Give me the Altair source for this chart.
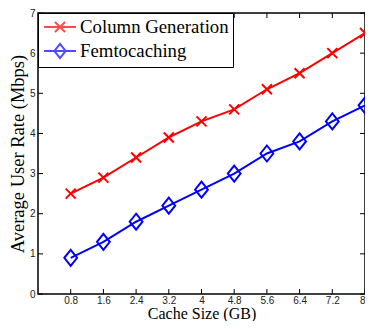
import altair as alt
import pandas as pd

cache_size = [0.8, 1.6, 2.4, 3.2, 4.0, 4.8, 5.6, 6.4, 7.2, 8.0]
column_generation = [2.5, 2.9, 3.4, 3.9, 4.3, 4.6, 5.1, 5.5, 6.0, 6.5]
femtocaching = [0.9, 1.3, 1.8, 2.2, 2.6, 3.0, 3.5, 3.8, 4.3, 4.7]
series_names = ["Column Generation", "Femtocaching"]
series_colors = ["#ff0000", "#0000ff"]
x_ticks = [0.8, 1.6, 2.4, 3.2, 4.0, 4.8, 5.6, 6.4, 7.2, 8.0]
y_ticks = [0, 1, 2, 3, 4, 5, 6, 7]

W, H = 327, 281
SERIF = "Liberation Serif"
SANS = "Liberation Sans"

df = pd.DataFrame({
    "cache": cache_size * 2,
    "rate": column_generation + femtocaching,
    "series": [series_names[0]] * len(cache_size) + [series_names[1]] * len(cache_size),
})
xt = pd.DataFrame({"cache": x_ticks})
yt = pd.DataFrame({"rate": y_ticks})

x_scale = alt.Scale(domain=[0, 8], nice=False, zero=False)
y_scale = alt.Scale(domain=[0, 7], nice=False, zero=False)
color_scale = alt.Scale(domain=series_names, range=series_colors)

x_axis = alt.Axis(values=x_ticks, labelExpr="'' + datum.value", labelOverlap=False,
                  labelFlush=True, title="Cache Size (GB)")
y_axis = alt.Axis(values=y_ticks, labelExpr="'' + datum.value", labelOverlap=False,
                  labelFlush=False, title="Average User Rate (Mbps)")
X_ENC = alt.X("cache:Q", scale=x_scale, axis=x_axis)
Y_ENC = alt.Y("rate:Q", scale=y_scale, axis=y_axis)

X_MARK = "M-1,-1L1,1M-1,1L1,-1"
D_MARK = "M0,-1L0.8,0L0,1L-0.8,0Z"
LEG_X = "M-1.78,0H1.78M-0.56,-0.56L0.56,0.56M-0.56,0.56L0.56,-0.56"
LEG_D = "M-1.78,0H1.78M0,-0.78L0.62,0L0,0.78L-0.62,0Z"

legend = alt.Legend(
    title=None,
    orient="top-left",
    offset=0,
    padding=4,
    strokeColor="black",
    fillColor="white",
    labelFont=SERIF,
    labelFontSize=18.8,
    labelColor="black",
    symbolSize=324,
    symbolStrokeWidth=2,
    symbolFillColor="transparent",
    rowPadding=2,
    labelOffset=10,
    symbolOffset=8,
)

lines = alt.Chart(df).mark_line(strokeWidth=2).encode(
    x=X_ENC, y=Y_ENC,
    color=alt.Color("series:N", scale=color_scale, legend=legend),
)

legend_layer = alt.Chart(df).transform_filter("false").mark_point(
    filled=False, strokeWidth=2, size=324
).encode(
    x=X_ENC, y=Y_ENC,
    color=alt.Color("series:N", scale=color_scale, legend=legend),
    shape=alt.Shape("series:N", scale=alt.Scale(domain=series_names, range=[LEG_X, LEG_D]), legend=legend),
)

points_x = alt.Chart(df[df.series == series_names[0]]).mark_point(
    filled=False, strokeWidth=2, opacity=1, shape=X_MARK, size=100, color=series_colors[0]
).encode(x=X_ENC, y=Y_ENC)
points_d = alt.Chart(df[df.series == series_names[1]]).mark_point(
    filled=False, strokeWidth=2, opacity=1, shape=D_MARK, size=256, color=series_colors[1]
).encode(x=X_ENC, y=Y_ENC)

tl = 5
left_ticks = alt.Chart(yt).mark_rule(color="black", strokeWidth=1).encode(
    y=Y_ENC, x=alt.value(0), x2=alt.value(tl))
right_ticks = alt.Chart(yt).mark_rule(color="black", strokeWidth=1).encode(
    y=Y_ENC, x=alt.value(W - tl), x2=alt.value(W))
bottom_ticks = alt.Chart(xt).mark_rule(color="black", strokeWidth=1).encode(
    x=X_ENC, y=alt.value(H - tl), y2=alt.value(H))
top_ticks = alt.Chart(xt).mark_rule(color="black", strokeWidth=1).encode(
    x=X_ENC, y=alt.value(0), y2=alt.value(tl))

chart = alt.layer(
    left_ticks, right_ticks, bottom_ticks, top_ticks, lines, points_x, points_d, legend_layer
).properties(
    width=W, height=H,
    autosize=alt.AutoSizeParams(type="none"),
    padding={"left": 30, "top": 5, "right": 0, "bottom": 27},
).configure_view(
    stroke="black", strokeWidth=1.5
).configure_axis(
    grid=False, domain=False, ticks=False, labelOverlap=False,
    labelFont=SANS, labelFontSize=10, labelColor="#222",
    titleFont=SERIF, titleFontWeight="normal", titleColor="black",
).configure_axisX(
    labelPadding=1, titlePadding=0, titleFontSize=16,
).configure_axisY(
    labelPadding=3, titlePadding=2, titleFontSize=18.5,
)

chart.save("out.html", embed_options={"renderer": "svg", "actions": False})
